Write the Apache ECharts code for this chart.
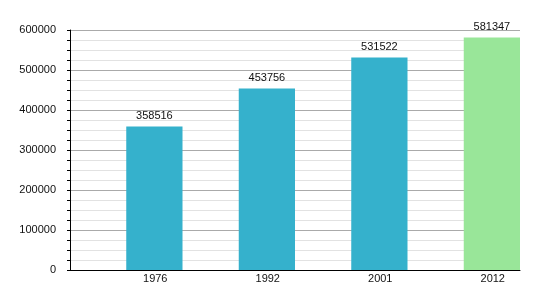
<!DOCTYPE html>
<html>
<head>
<meta charset="utf-8">
<script src="https://cdn.jsdelivr.net/npm/echarts@6/dist/echarts.min.js"></script>
<style>html,body{margin:0;padding:0;background:#fff;}#c{width:550px;height:300px;}</style>
</head>
<body>
<div id="c"></div>
<script>
var categories = ['1976', '1992', '2001', '2012'];
var populations = [358516, 453756, 531522, 581347];
var barColors = ['#35b1cc', '#35b1cc', '#35b1cc', '#99e699'];
var yTicks = [0, 100000, 200000, 300000, 400000, 500000, 600000];

var chart = echarts.init(document.getElementById('c'), null, {renderer: 'canvas'});
var font = 'Liberation Sans, Arial, sans-serif';
chart.setOption({
  animation: false,
  textStyle: {fontFamily: font},
  grid: {left: 70, right: 30, top: 30, bottom: 30, containLabel: false},
  xAxis: {
    type: 'category',
    data: categories,
    axisLine: {lineStyle: {color: '#000', width: 1}},
    axisTick: {show: false},
    axisLabel: {
      color: '#111', fontSize: 11, fontFamily: font, margin: 3,
      formatter: function (v) { return '{a|' + v + '}'; },
      rich: {a: {padding: [0, 0, 0, 58], fontSize: 11, color: '#111', fontFamily: font}}
    },
    splitLine: {show: false}
  },
  yAxis: {
    type: 'value',
    min: yTicks[0],
    max: yTicks[yTicks.length - 1],
    interval: yTicks[1] - yTicks[0],
    axisLine: {show: true, lineStyle: {color: '#000', width: 1}},
    axisTick: {show: true, length: 3, lineStyle: {color: '#000'}},
    minorTick: {show: true, splitNumber: 4, length: 3, lineStyle: {color: '#000'}},
    axisLabel: {color: '#111', fontSize: 11, fontFamily: font, margin: 14,
      formatter: function (v) { return String(v); }},
    splitLine: {show: true, lineStyle: {color: '#aaaaaa', width: 1}},
    minorSplitLine: {show: true, lineStyle: {color: '#e2e2e2', width: 1}}
  },
  series: [
    {
      type: 'bar',
      data: categories.map(function () { return null; }),
      barGap: '0%',
      barCategoryGap: '0%'
    },
    {
      type: 'bar',
      barGap: '0%',
      barCategoryGap: '0%',
      data: populations.map(function (v, i) {
        return {value: v, itemStyle: {color: barColors[i]}};
      }),
      label: {
        show: true, position: 'top', distance: 5,
        color: '#111', fontSize: 11, fontFamily: font
      }
    }
  ]
});
</script>
</body>
</html>
